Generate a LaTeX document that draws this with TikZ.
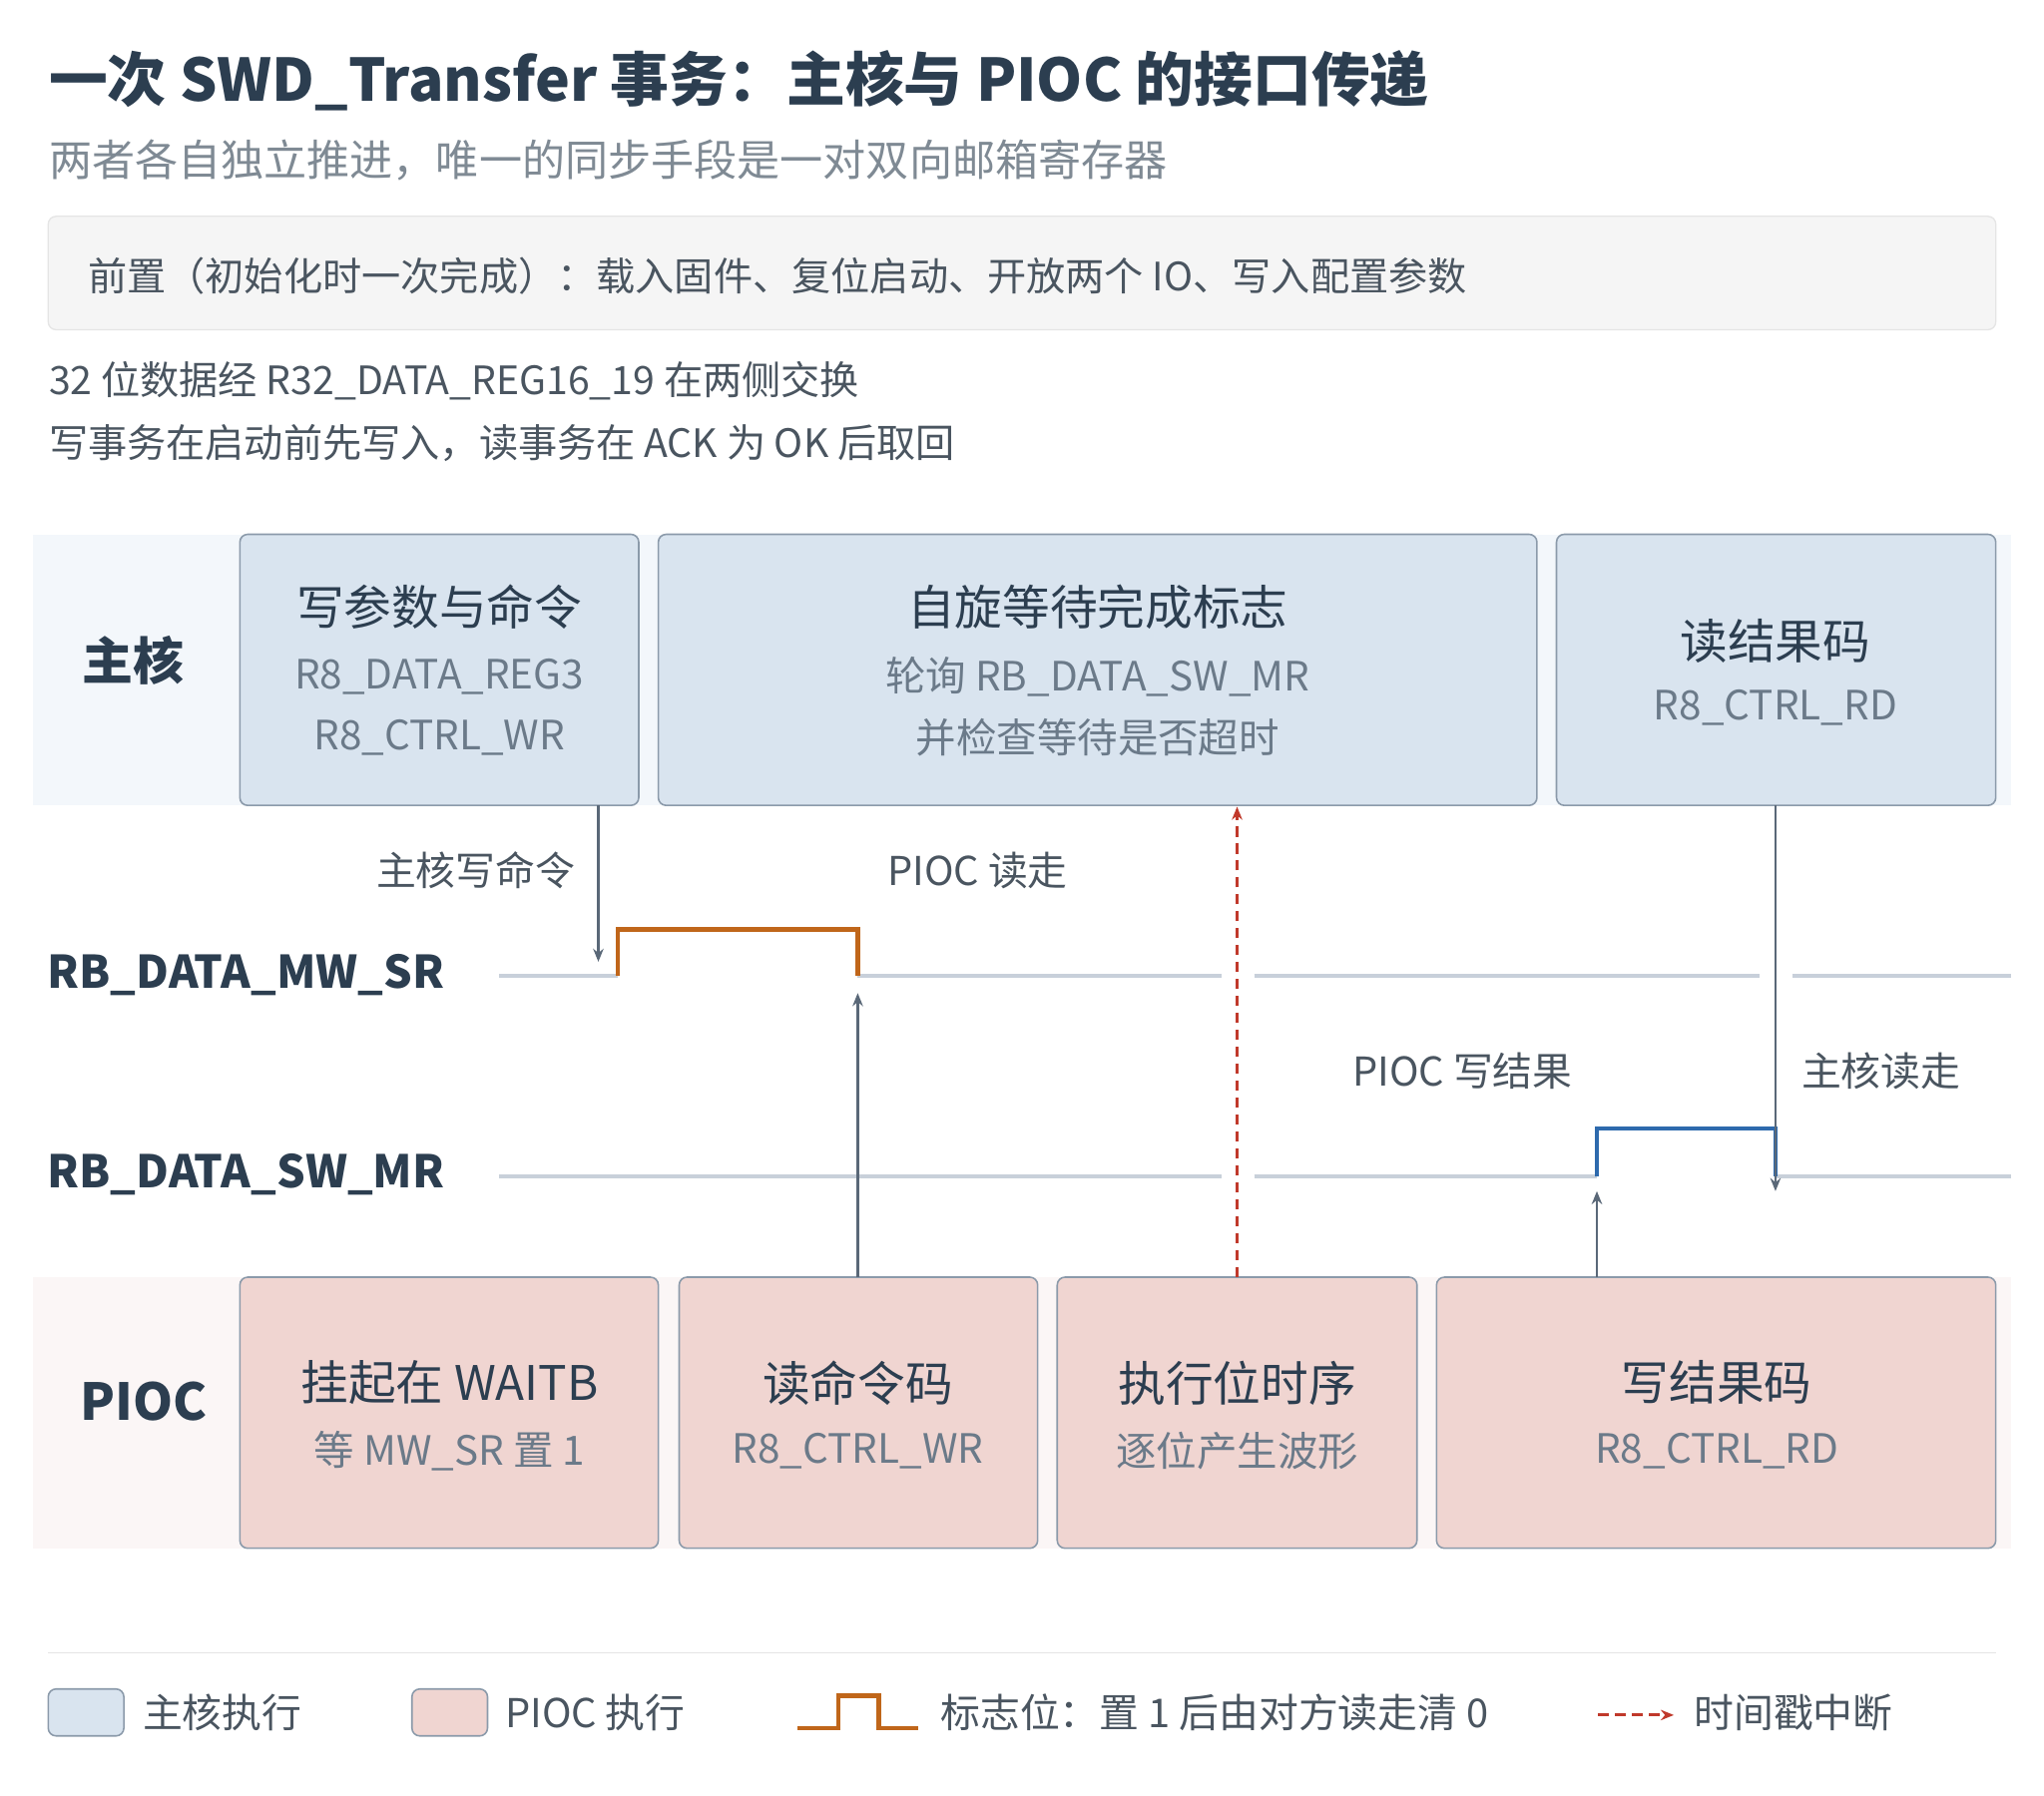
\documentclass[tikz,border=0pt]{standalone}
\usepackage{fontspec}
\setmainfont{Noto Sans CJK SC}
\usetikzlibrary{arrows.meta}
\definecolor{navy}{HTML}{2C3E50}
\definecolor{sub}{HTML}{7F8A94}
\definecolor{txt}{HTML}{4A5560}
\definecolor{mute}{HTML}{6B7A89}
\definecolor{bluef}{HTML}{D9E4EF}
\definecolor{pinkf}{HTML}{F0D5D1}
\definecolor{bord}{HTML}{8B9AAA}
\definecolor{sig}{HTML}{C8D0DA}
\definecolor{org}{HTML}{C0661A}
\definecolor{blu}{HTML}{2E6AAD}
\definecolor{arr}{HTML}{5A6878}
\definecolor{red}{HTML}{C0392B}
\definecolor{laneb}{HTML}{F3F7FB}
\definecolor{lanep}{HTML}{FBF6F6}
\tikzset{
 fs/.style={font=\fontsize{#1}{#1}\selectfont},
 box/.style={draw=bord,line width=1.2pt,rounded corners=6pt},
 bb/.style={box,fill=bluef},
 pb/.style={box,fill=pinkf},
 head/.style={fs=36.5,text=navy},
 det/.style={fs=31,text=mute},
 lab/.style={fs=30.5,text=txt},
 siglab/.style={text=navy,font=\bfseries\fontsize{34.5}{34.5}\selectfont,anchor=west},
 sigl/.style={sig,line width=3pt},
 conn/.style={arr,line width=1.8pt,-{Stealth[length=10pt,width=8pt]}},
 dashc/.style={red,line width=2.2pt,dash pattern=on 8pt off 5pt,-{Stealth[length=10pt,width=8pt]}},
}
\begin{document}
\begin{tikzpicture}[x=1pt,y=-1pt]
\useasboundingbox (0,0) rectangle (1568,1378);
\fill[white] (0,0) rectangle (1568,1378);
\node[anchor=west,text=navy,font=\bfseries\fontsize{45}{45}\selectfont] (title) at (34,62) {一次 SWD\_Transfer 事务：主核与 PIOC 的接口传递};
\node[anchor=west,fs=33,text=sub] (subt) at (34,123) {两者各自独立推进，唯一的同步手段是一对双向邮箱寄存器};
\draw[fill=black!4,draw=black!10,line width=1pt,rounded corners=6pt] (37,166) rectangle (1531,253);
\node[anchor=west,fs=30,text=txt] (pre) at (64,212) {前置（初始化时一次完成）：载入固件、复位启动、开放两个 IO、写入配置参数};
\node[anchor=west,fs=30,text=txt] (l1) at (34,292) {32 位数据经 R32\_DATA\_REG16\_19 在两侧交换};
\node[anchor=west,fs=30,text=txt] (l2) at (34,340) {写事务在启动前先写入，读事务在 ACK 为 OK 后取回};
% lanes
\fill[laneb] (25,410) rectangle (1543,618);
\fill[lanep] (25,980) rectangle (1543,1188);
\node[text=navy,font=\bfseries\fontsize{39}{39}\selectfont] (main) at (102,507) {主核};
\node[text=navy,font=\bfseries\fontsize{39}{39}\selectfont] (pioc) at (110,1075) {PIOC};
% main boxes
\draw[bb] (184,410) rectangle (490,618);
\draw[bb] (505,410) rectangle (1179,618);
\draw[bb] (1194,410) rectangle (1531,618);
\node[head] (m1) at (337,466) {写参数与命令};
\node[det] at (337,519) {R8\_DATA\_REG3};
\node[det] at (337,566) {R8\_CTRL\_WR};
\node[head] (m2) at (842,466) {自旋等待完成标志};
\node[det] at (842,519) {轮询 RB\_DATA\_SW\_MR};
\node[det] at (842,566) {并检查等待是否超时};
\node[head] (m3) at (1362,492) {读结果码};
\node[det] at (1362,543) {R8\_CTRL\_RD};
% pioc boxes
\draw[pb] (184,980) rectangle (505,1188);
\draw[pb] (521,980) rectangle (796,1188);
\draw[pb] (811,980) rectangle (1087,1188);
\draw[pb] (1102,980) rectangle (1531,1188);
\node[head] at (345,1061) {挂起在 WAITB};
\node[det] at (345,1113) {等 MW\_SR 置 1};
\node[head] at (658,1061) {读命令码};
\node[det] at (658,1113) {R8\_CTRL\_WR};
\node[head] at (949,1061) {执行位时序};
\node[det] at (949,1113) {逐位产生波形};
\node[head] at (1317,1061) {写结果码};
\node[det] at (1317,1113) {R8\_CTRL\_RD};
% signals
\node[siglab] (s1) at (33,748) {RB\_DATA\_MW\_SR};
\node[siglab] (s2) at (33,901) {RB\_DATA\_SW\_MR};
\draw[sigl] (383,749) -- (474,749);
\draw[sigl] (658,749) -- (937,749);
\draw[sigl] (962,749) -- (1350,749);
\draw[sigl] (1375,749) -- (1543,749);
\draw[org,line width=3.5pt] (474,749) -- (474,713) -- (658,713) -- (658,749);
\draw[sigl] (383,903) -- (937,903);
\draw[sigl] (962,903) -- (1225,903);
\draw[sigl] (1362,903) -- (1543,903);
\draw[blu,line width=3.5pt] (1225,903) -- (1225,866) -- (1362,866) -- (1362,903);
% connectors
\coordinate (a1s) at (459,618); \coordinate (a1e) at (459,738);
\coordinate (a2s) at (658,980); \coordinate (a2e) at (658,762);
\coordinate (a3s) at (949,980); \coordinate (a3e) at (949,619);
\coordinate (a4s) at (1225,980); \coordinate (a4e) at (1225,914);
\coordinate (a5s) at (1362,618); \coordinate (a5e) at (1362,914);
\draw[conn] (a1s) -- (a1e);
\draw[conn] (a2s) -- (a2e);
\draw[dashc] (a3s) -- (a3e);
\draw[conn] (a4s) -- (a4e);
\draw[conn] (a5s) -- (a5e);
\node[lab] at (365,668) {主核写命令};
\node[lab] at (750,668) {PIOC 读走};
\node[lab] at (1122,822) {PIOC 写结果};
\node[lab] at (1443,822) {主核读走};
% legend
\draw[black!10,line width=1pt] (37,1268) -- (1531,1268);
\draw[bb] (37,1296) rectangle (95,1332);
\node[anchor=west,lab] at (106,1314) {主核执行};
\draw[pb] (316,1296) rectangle (374,1332);
\node[anchor=west,lab] at (384,1314) {PIOC 执行};
\draw[org,line width=3.5pt] (612,1326) -- (643,1326) -- (643,1301) -- (674,1301) -- (674,1326) -- (704,1326);
\node[anchor=west,lab] at (718,1314) {标志位：置 1 后由对方读走清 0};
\coordinate (lg1) at (1226,1316); \coordinate (lg2) at (1284,1316);
\draw[dashc] (lg1) -- (lg2);
\node[anchor=west,lab] at (1296,1314) {时间戳中断};
\end{tikzpicture}
\end{document}
